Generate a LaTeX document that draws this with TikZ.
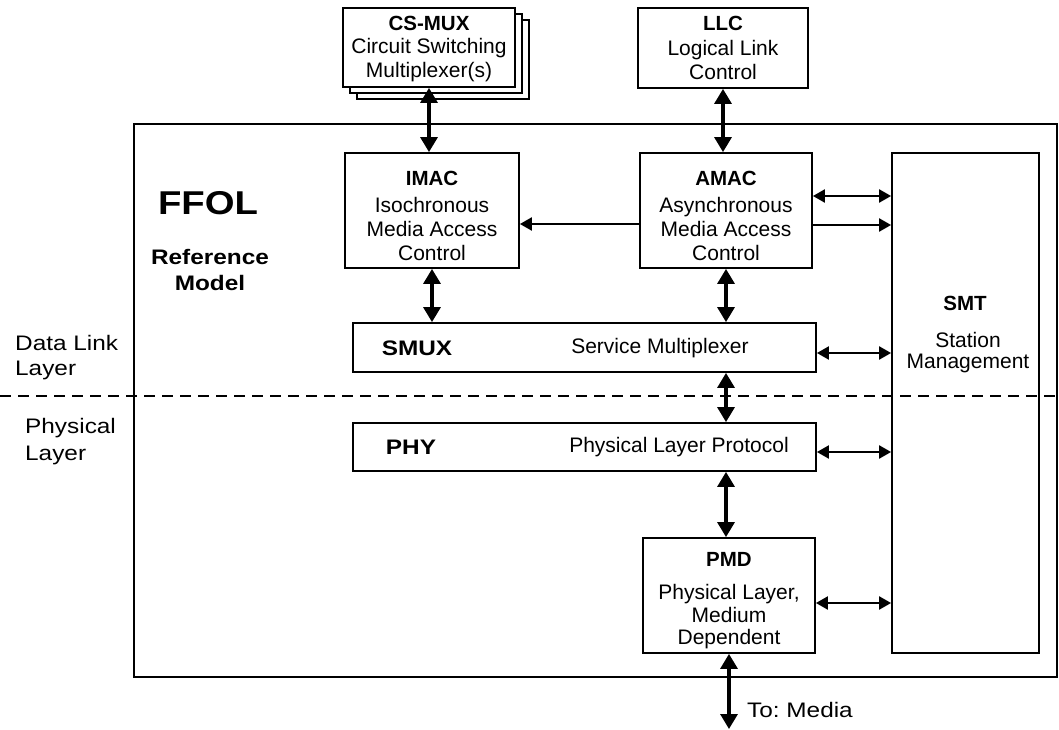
\documentclass[tikz,border=0pt]{standalone}
\usepackage{fontspec}
\setmainfont{Liberation Sans}
\newfontfamily\widesans[FakeStretch=1.16]{Liberation Sans}
\usetikzlibrary{arrows.meta}
\frenchspacing

\begin{document}
\begin{tikzpicture}[x=1pt,y=-1pt,
  box/.style={draw,line width=1.8pt,inner sep=0pt,fill=white},
  body/.style={align=center,inner sep=0pt,font=\fontsize{21}{24}\selectfont},
  title/.style={inner sep=0pt,font=\fontsize{20.5}{24}\selectfont\bfseries},
  side/.style={align=left,inner sep=0pt,font=\widesans\fontsize{21}{25}\selectfont},
  dbl/.style={line width=3.2pt,{Triangle[length=15pt,width=17pt]}-{Triangle[length=15pt,width=17pt]}},
  hdbl/.style={line width=2.2pt,{Triangle[length=12pt,width=13pt]}-{Triangle[length=12pt,width=13pt]}},
  hone/.style={line width=2.2pt,-{Triangle[length=12pt,width=13pt]}},
  layerline/.style={line width=1.8pt,dash pattern=on 11pt off 7pt}]

\useasboundingbox (0,0) rectangle (1059,730);

% outer frame of the reference model
\node[box,fill=none,minimum width=923pt,minimum height=553pt] (frame) at (595.5,400.5) {};

% stacked circuit switching multiplexers
\node[box,minimum width=172pt,minimum height=79pt] (csmux3) at (443,59.5) {};
\node[box,minimum width=172pt,minimum height=79pt] (csmux2) at (436,53.5) {};
\node[box,minimum width=172pt,minimum height=79pt] (csmux) at (429,47.5) {};
\node[title] (csmuxt) at (429,23) {CS-MUX};
\node[body] (csmuxb) at (429,60) {Circuit Switching\\Multiplexer(s)};

% logical link control
\node[box,minimum width=170pt,minimum height=80pt] (llc) at (723,48) {};
\node[title] (llct) at (723,23) {LLC};
\node[body] (llcb) at (723,60) {Logical Link\\Control};

% media access control blocks
\node[box,minimum width=174pt,minimum height=115pt] (imac) at (432,210.5) {};
\node[title] (imact) at (432,178) {IMAC};
\node[body] (imacb) at (432,229) {Isochronous\\Media Access\\Control};

\node[box,minimum width=172pt,minimum height=115pt] (amac) at (726,210.5) {};
\node[title] (amact) at (726,178) {AMAC};
\node[body] (amacb) at (726,229) {Asynchronous\\Media Access\\Control};

% station management
\node[box,minimum width=147pt,minimum height=500pt] (smt) at (965.5,403) {};
\node[title] (smtt) at (965,303) {SMT};
\node[body,font=\fontsize{21}{21.5}\selectfont] (smtb) at (968,352.5) {Station\\Management};

% service multiplexer and physical layer protocol
\node[box,minimum width=463pt,minimum height=49pt] (smux) at (584.5,347.5) {};
\node[title,font=\widesans\fontsize{21}{24}\selectfont\bfseries] (smuxt) at (417,348) {SMUX};
\node[body] (smuxb) at (660,348) {Service Multiplexer};

\node[box,minimum width=463pt,minimum height=48pt] (phy) at (584.5,447) {};
\node[title,font=\widesans\fontsize{21}{24}\selectfont\bfseries] (phyt) at (411,447) {PHY};
\node[body] (phyb) at (679,447) {Physical Layer Protocol};

% physical medium dependent
\node[box,minimum width=172pt,minimum height=115pt] (pmd) at (729,595.5) {};
\node[title] (pmdt) at (729,559) {PMD};
\node[body,font=\fontsize{21}{22.5}\selectfont] (pmdb) at (729,617) {Physical Layer,\\Medium\\Dependent};

% model title and layer names
\node[inner sep=0pt,font=\widesans\fontsize{33}{36}\selectfont\bfseries] (ffol) at (208,203) {FFOL};
\node[align=center,inner sep=0pt,font=\widesans\fontsize{21}{26}\selectfont\bfseries] (refmodel) at (210,270) {Reference\\Model};
\node[side,anchor=west] (dll) at (15,357.5) {Data Link\\Layer};
\node[side,anchor=west,font=\widesans\fontsize{21}{27}\selectfont] (pl) at (25,441.5) {Physical\\Layer};

% boundary between data link and physical layer
\coordinate (dl) at (0,396);
\coordinate (dr) at (1059,396);
\draw[layerline] (dl) -- (dr);

% vertical interfaces
\draw[dbl] (csmux.south) -- (csmux.south |- imac.north);
\draw[dbl] (llc.south) -- (llc.south |- amac.north);
\draw[dbl] (imac.south) -- (imac.south |- smux.north);
\draw[dbl] (amac.south) -- (amac.south |- smux.north);
\draw[dbl] (amac.south |- smux.south) -- (amac.south |- phy.north);
\draw[dbl] (amac.south |- phy.south) -- (amac.south |- pmd.north);
\coordinate (media) at (729,729);
\draw[dbl] (pmd.south) -- (media);
\node[side,anchor=west] (medialbl) at (747,710) {To: Media};

% horizontal interfaces
\coordinate (a1) at ([yshift=14.5pt]amac.east);
\coordinate (a2) at ([yshift=-14.5pt]amac.east);
\coordinate (a3) at ([yshift=-13.5pt]amac.west);
\coordinate (s1) at ([yshift=-5.5pt]smux.east);
\coordinate (p1) at ([yshift=-5pt]phy.east);
\coordinate (m1) at ([yshift=-7.5pt]pmd.east);
\draw[hdbl] (a1) -- (a1 -| smt.west);
\draw[hone] (a2) -- (a2 -| smt.west);
\draw[hone] (a3) -- (a3 -| imac.east);
\draw[hdbl] (s1) -- (s1 -| smt.west);
\draw[hdbl] (p1) -- (p1 -| smt.west);
\draw[hdbl] (m1) -- (m1 -| smt.west);
\end{tikzpicture}
\end{document}
